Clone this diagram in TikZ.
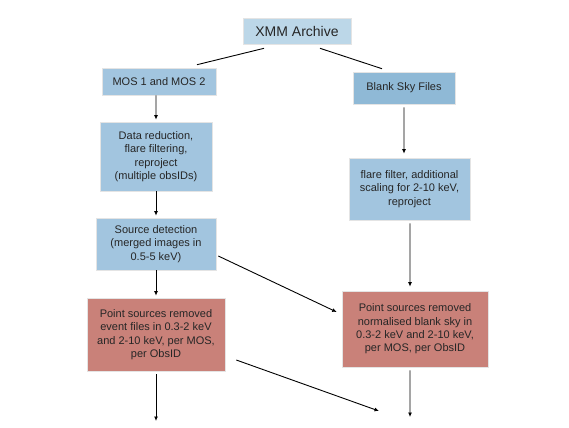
\documentclass[tikz,border=0pt]{standalone}
\usepackage{fontspec}
\setmainfont{Liberation Sans}
\usetikzlibrary{arrows.meta}
\definecolor{xmmfill}{HTML}{BCD7E8}
\definecolor{bluefill}{HTML}{A2C5DF}
\definecolor{blankfill}{HTML}{8FB9D6}
\definecolor{redfill}{HTML}{C98179}
\definecolor{edgegray}{HTML}{E4E4E4}
\tikzset{
  box/.style={rectangle, draw=edgegray, line width=0.6bp, inner sep=0pt, align=center,
    font=\fontsize{11bp}{13.3bp}\selectfont, text=black!85},
  bluebox/.style={box, fill=bluefill},
  redbox/.style={box, fill=redfill},
  link/.style={draw=black, line width=0.9bp},
  arr/.style={link, -{Latex[length=4.5bp,width=4bp]}}
}
\begin{document}
\begin{tikzpicture}[x=1bp,y=-1bp]
\useasboundingbox (0,0) rectangle (569,427);
\fill[white] (0,0) rectangle (569,427);

\node[box, fill=xmmfill, minimum width=108bp, minimum height=26bp,
  font=\fontsize{14bp}{16bp}\selectfont] (xmm) at (297,31) {XMM Archive};
\node[bluebox, minimum width=114bp, minimum height=27bp] (mos) at (159,81.5) {MOS 1 and MOS 2};
\node[box, fill=blankfill, minimum width=102bp, minimum height=32bp] (blank) at (404,88) {Blank Sky Files};
\node[bluebox, minimum width=112bp, minimum height=69bp] (data) at (156,156.5)
  {Data reduction,\\flare filtering,\\reproject\\(multiple obsIDs)};
\node[bluebox, minimum width=120bp, minimum height=52bp] (src) at (156,244)
  {Source detection\\(merged images in\\0.5-5 keV)};
\node[bluebox, minimum width=121bp, minimum height=62bp] (flare) at (409.5,189)
  {flare filter, additional\\scaling for 2-10 keV,\\reproject};
\node[redbox, minimum width=138bp, minimum height=73bp] (redl) at (156,334.5)
  {Point sources removed\\event files in 0.3-2 keV\\and 2-10 keV, per MOS,\\per ObsID};
\node[redbox, minimum width=146bp, minimum height=76bp] (redr) at (415,329)
  {Point sources removed\\normalised blank sky in\\0.3-2 keV and 2-10 keV,\\per MOS, per ObsID};

\coordinate (endl) at (156,421);
\coordinate (endm) at (379,411);
\coordinate (endr) at (410,417);

\draw[link] ([xshift=-33bp,yshift=-4bp]xmm.south) -- ([xshift=38bp,yshift=3bp]mos.north);
\draw[link] ([xshift=23bp,yshift=-4bp]xmm.south) -- ([xshift=-22bp,yshift=3bp]blank.north);
\draw[arr] ([xshift=-3bp]mos.south) -- ([xshift=0bp,yshift=2bp]data.north);
\draw[arr] (data.south) -- ([yshift=2bp]src.north);
\draw[arr] ([yshift=-3bp]blank.south) -- ([xshift=-5.5bp,yshift=4bp]flare.north);
\draw[arr] ([xshift=0.5bp,yshift=-3bp]flare.south) -- ([xshift=-5bp,yshift=4bp]redr.north);
\draw[arr] (src.south) -- ([yshift=2bp]redl.north);
\draw[arr] ([xshift=2bp,yshift=-12bp]src.east) -- ([xshift=-5bp,yshift=17bp]redr.west);
\draw[arr] ([yshift=-3bp]redl.south) -- (endl);
\draw[arr] ([xshift=11bp,yshift=-25.5bp]redl.east) -- (endm);
\draw[arr] ([xshift=-5bp,yshift=-3bp]redr.south) -- (endr);
\end{tikzpicture}
\end{document}
